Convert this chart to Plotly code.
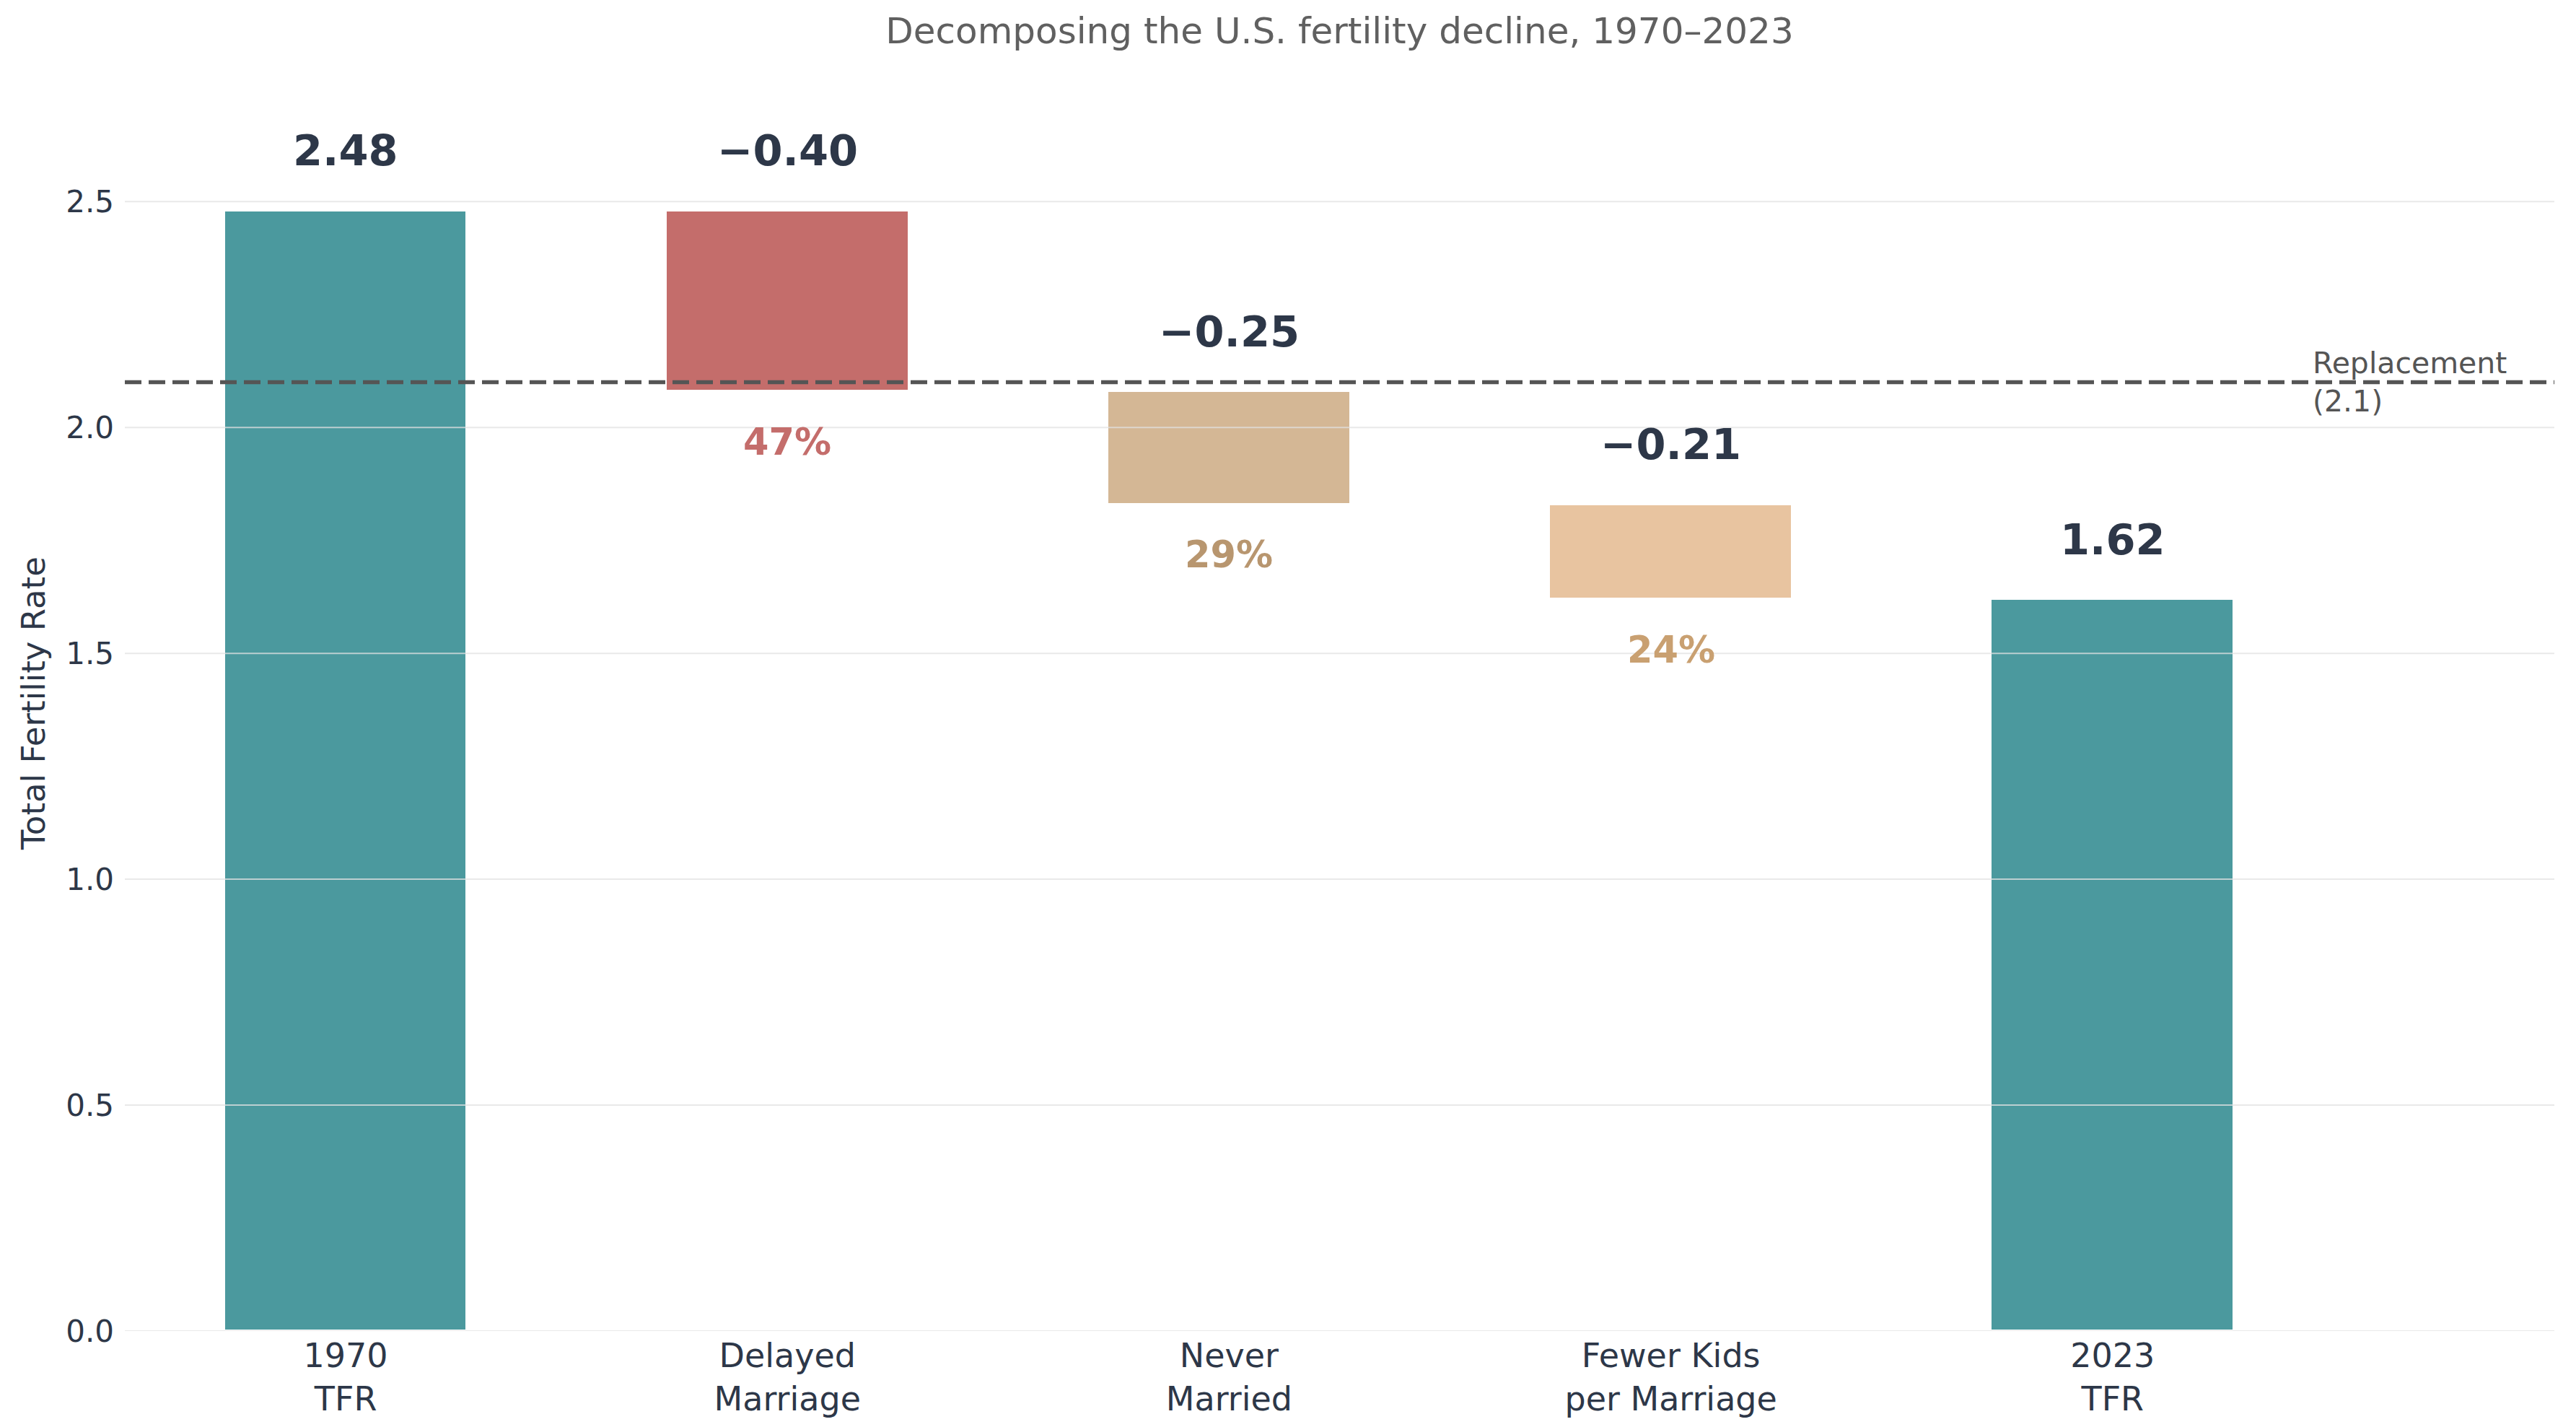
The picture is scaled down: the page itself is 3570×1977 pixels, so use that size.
import plotly.graph_objects as go

# ---- data ----
categories = ["1970<br>TFR", "Delayed<br>Marriage", "Never<br>Married", "Fewer Kids<br>per Marriage", "2023<br>TFR"]
tfr_start = 2.48
changes = [-0.40, -0.25, -0.21]
tfr_end = 1.62
shares_pct = [47, 29, 24]
replacement = 2.1
ytick_vals = [0.0, 0.5, 1.0, 1.5, 2.0, 2.5]

bar_colors = ["#4B999E", "#C46D6B", "#D4B795", "#E8C4A0", "#4B999E"]
share_colors = ["#C46D6B", "#B8966F", "#C9A071"]
NAVY = "#2D3748"
FONT = "DejaVu Sans"

# ---- build waterfall bases / heights ----
bases, heights = [0.0], [tfr_start]
running = tfr_start
for c in changes:
    bases.append(running)
    heights.append(c)
    running += c
bases.append(0.0)
heights.append(tfr_end)

tops = [b + h if h > 0 else b for b, h in zip(bases, heights)]
bottoms = [b if h > 0 else b + h for b, h in zip(bases, heights)]

fig = go.Figure()
fig.add_trace(go.Bar(
    x=list(range(len(categories))), y=heights, base=bases, width=0.55,
    marker=dict(color=bar_colors, line=dict(color="white", width=3)),
    hoverinfo="skip", showlegend=False,
))

# value labels above bars
value_texts = [f"{tfr_start:.2f}"] + [f"\u2212{abs(c):.2f}" for c in changes] + [f"{tfr_end:.2f}"]
for i, (t, top) in enumerate(zip(value_texts, tops)):
    fig.add_annotation(x=i, y=top, text=f"<b>{t}</b>", showarrow=False,
                       yanchor="middle", yshift=83,
                       font=dict(family=FONT, size=59, color=NAVY))

# share labels below change bars
for j, (p, col) in enumerate(zip(shares_pct, share_colors)):
    i = j + 1
    fig.add_annotation(x=i, y=bottoms[i], text=f"<b>{p}%</b>", showarrow=False,
                       yanchor="middle", yshift=-70,
                       font=dict(family=FONT, size=51, color=col))

# gridlines drawn above bars (semi-transparent)
for v in ytick_vals:
    fig.add_shape(type="line", xref="paper", x0=0, x1=1, yref="y", y0=v, y1=v,
                  line=dict(color="rgba(225,225,225,0.75)", width=2), layer="above")

# replacement line
fig.add_shape(type="line", xref="paper", x0=0, x1=1, yref="y", y0=replacement, y1=replacement,
              line=dict(color="#555555", width=5.5, dash="23px,10px"), layer="above")
fig.add_annotation(x=4.45, y=replacement, text=f"Replacement<br>({replacement})",
                   showarrow=False, xanchor="left", yanchor="middle", align="left",
                   font=dict(family=FONT, size=41, color="#555555"))

W, H = 3554, 1961
fig.update_layout(
    width=W, height=H,
    margin=dict(l=165, r=22, t=96, b=125, autoexpand=False),
    paper_bgcolor="white", plot_bgcolor="white",
    font=dict(family=FONT, color=NAVY),
    title=dict(text="Decomposing the U.S. fertility decline, 1970\u20132023",
               x=0.5, xref="paper", y=1 - 34 / H, yref="container", yanchor="middle",
               font=dict(family=FONT, size=50, color="#606060")),
    bargap=0,
)
fig.update_xaxes(
    range=[-0.5, 5.0], tickmode="array", tickvals=list(range(len(categories))),
    ticktext=categories, showgrid=False, zeroline=False, showline=False, ticks="",
    tickfont=dict(family=FONT, size=46, color=NAVY), ticklabelstandoff=3,
)
fig.update_yaxes(
    range=[0, 2.78], tickmode="array", tickvals=ytick_vals,
    ticktext=[f"{v:.1f}" for v in ytick_vals],
    showgrid=False, zeroline=False, showline=False, ticks="",
    tickfont=dict(family=FONT, size=42, color=NAVY), ticklabelstandoff=14,
    title=dict(text="Total Fertility Rate", font=dict(family=FONT, size=45, color=NAVY), standoff=14),
)

fig.write_html("out.html")
